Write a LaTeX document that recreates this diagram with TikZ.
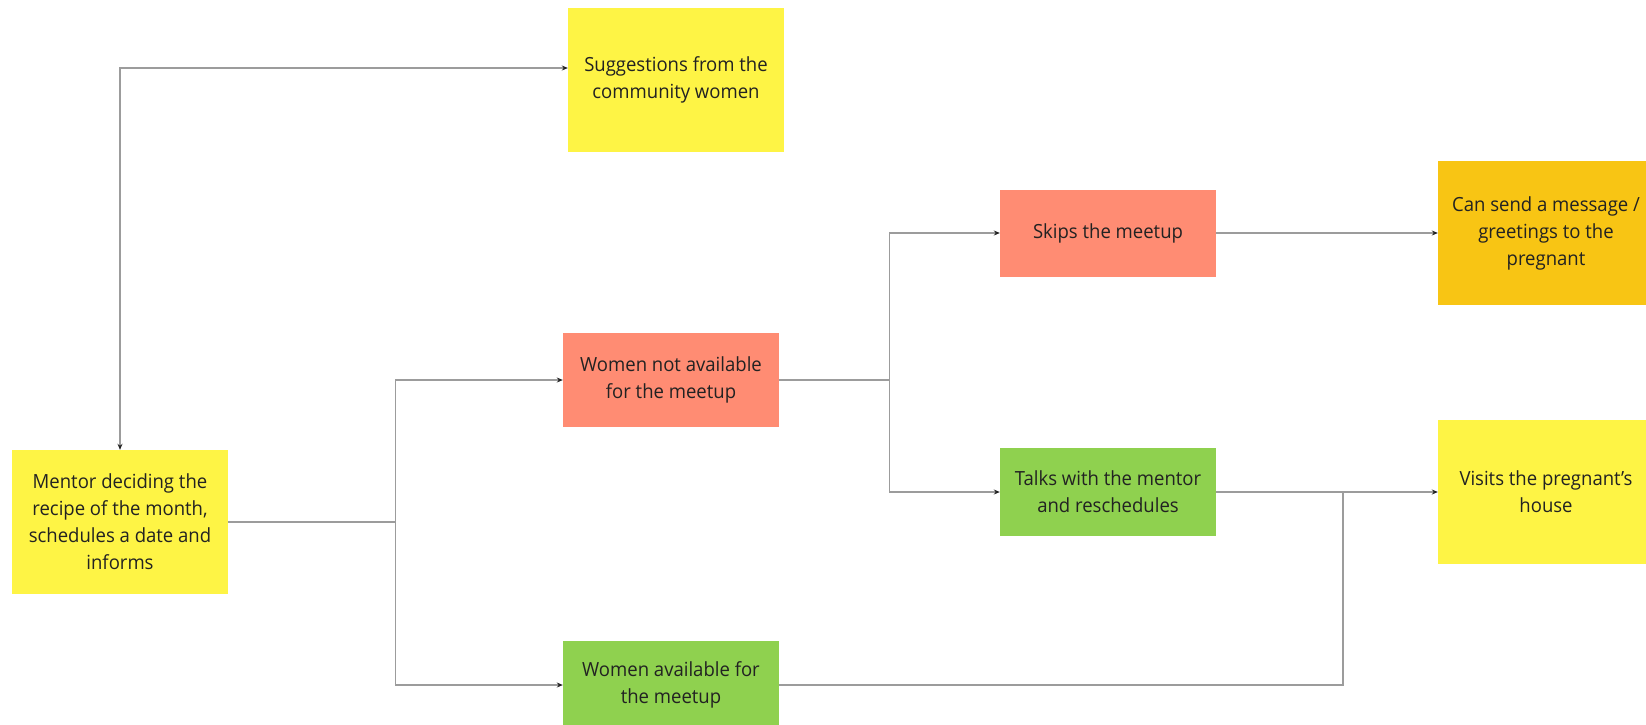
\documentclass[tikz,border=0pt]{standalone}
\usepackage{fontspec}
\setmainfont{Open Sans}[FakeStretch=0.95]
\usetikzlibrary{arrows.meta}
\definecolor{noteyellow}{HTML}{FEF445}
\definecolor{notesalmon}{HTML}{FF8C73}
\definecolor{notegreen}{HTML}{8FD14F}
\definecolor{noteorange}{HTML}{F8C514}
\definecolor{inkgray}{HTML}{222222}
\definecolor{wiregray}{HTML}{9C9C9C}
\tikzset{
  note/.style={rectangle, minimum width=216pt, align=center, inner sep=0pt,
    text=inkgray, font=\fontsize{19.5}{27}\selectfont},
  tall/.style={note, minimum height=144pt},
  short/.style={note, minimum height=88pt},
  conn/.style={draw=wiregray, line width=1.1pt},
  tip/.style={-{Stealth[length=6pt,width=5pt,inkgray]}},
  bothtips/.style={{Stealth[length=6pt,width=5pt,inkgray]}-{Stealth[length=6pt,width=5pt,inkgray]}}
}
\begin{document}
\begin{tikzpicture}[x=1pt,y=-1pt]
  \clip (0,0) rectangle (1646,724);
  \fill[white] (0,0) rectangle (1646,724);

  % sticky notes
  \node[tall, fill=noteyellow] (sugg) at (676,80) {Suggestions from the\\community women};
  \node[tall, fill=noteyellow] (mentor) at (120,522) {Mentor deciding the\\recipe of the month,\\schedules a date and\\informs};
  \node[note, minimum height=94pt, fill=notesalmon] (notavail) at (671,380) {Women not available\\for the meetup};
  \node[short, fill=notegreen] (avail) at (671,685) {Women available for\\the meetup};
  \node[note, minimum height=87pt, fill=notesalmon] (skips) at (1108,233) {Skips the meetup};
  \node[short, fill=notegreen] (talks) at (1108,492) {Talks with the mentor\\and reschedules};
  \node[tall, fill=noteorange] (greet) at (1546,233) {Can send a message /\\greetings to the\\pregnant};
  \node[tall, fill=noteyellow] (visit) at (1546,492) {Visits the pregnant's\\house};

  % connectors
  \draw[conn, bothtips] (mentor.north) |- ([yshift=12pt]sugg.west);
  \draw[conn, tip] (mentor.east) -- ++(167,0) |- (notavail.west);
  \draw[conn, tip] (mentor.east) -- ++(167,0) |- (avail.west);
  \draw[conn, tip] (notavail.east) -- ++(110,0) |- (skips.west);
  \draw[conn, tip] (notavail.east) -- ++(110,0) |- (talks.west);
  \draw[conn, tip] (skips.east) -- (greet.west);
  \draw[conn, tip] (talks.east) -- (visit.west);
  \coordinate (merge) at (1343,492);
  \draw[conn] (avail.east) -| (merge);
\end{tikzpicture}
\end{document}
